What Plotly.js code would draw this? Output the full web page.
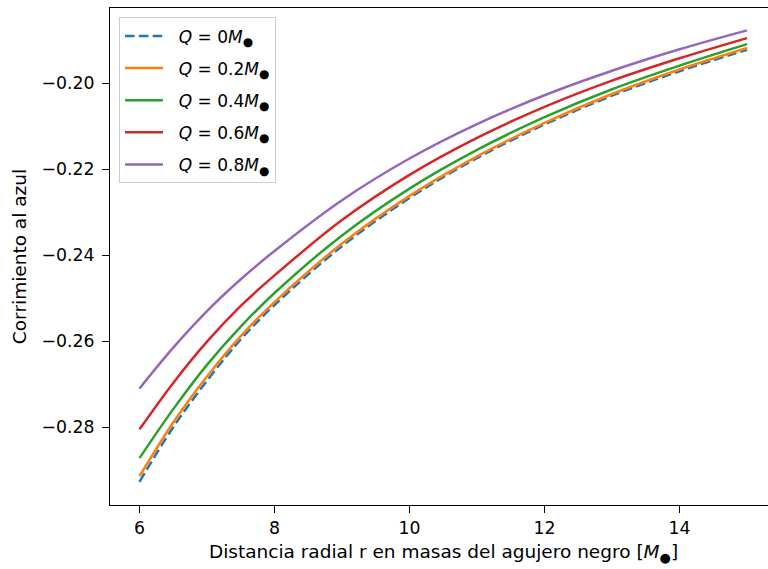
<!DOCTYPE html>
<html>
<head>
<meta charset="utf-8">
<script src="https://cdn.plot.ly/plotly-3.0.1.min.js"></script>
<style>
html,body{margin:0;padding:0;overflow:hidden;background:#fff;}
#chart{width:790px;height:569px;}
</style>
</head>
<body>
<div id="chart"></div>
<script>
// radial distance r (in black hole masses)
const r = [6, 6.5, 7, 7.5, 8, 9, 10, 11, 12, 13, 14, 15];
// blueshift values, one array per charge Q
const q00 = [-0.2927, -0.2800, -0.2692, -0.2596, -0.2516, -0.2379, -0.2267, -0.2174, -0.2096, -0.2029, -0.1972, -0.1922];
const q02 = [-0.2914, -0.2789, -0.2682, -0.2588, -0.2509, -0.2373, -0.2262, -0.2170, -0.2092, -0.2025, -0.1968, -0.1918];
const q04 = [-0.2872, -0.2758, -0.2655, -0.2566, -0.2488, -0.2354, -0.2245, -0.2155, -0.2079, -0.2014, -0.1959, -0.1909];
const q06 = [-0.2805, -0.2697, -0.2601, -0.2518, -0.2447, -0.2318, -0.2213, -0.2127, -0.2055, -0.1994, -0.1942, -0.1895];
const q08 = [-0.2710, -0.2615, -0.2530, -0.2456, -0.2390, -0.2272, -0.2175, -0.2095, -0.2028, -0.1971, -0.1921, -0.1877];
const seriesNames = [
  '\u00a0\u00a0<i>Q</i> = 0<i>M</i><sub>●</sub>',
  '\u00a0\u00a0<i>Q</i> = 0.2<i>M</i><sub>●</sub>',
  '\u00a0\u00a0<i>Q</i> = 0.4<i>M</i><sub>●</sub>',
  '\u00a0\u00a0<i>Q</i> = 0.6<i>M</i><sub>●</sub>',
  '\u00a0\u00a0<i>Q</i> = 0.8<i>M</i><sub>●</sub>'
];
const xTicks = [6, 8, 10, 12, 14];
const xTickText = ['6', '8', '10', '12', '14'];
const yTicks = [-0.28, -0.26, -0.24, -0.22, -0.20];
const yTickText = ['\u22120.28', '\u22120.26', '\u22120.24', '\u22120.22', '\u22120.20'];

const colors = ['#1f77b4', '#ff7f0e', '#2ca02c', '#d62728', '#9467bd'];
const ys = [q00, q02, q04, q06, q08];
const traces = ys.map((y, i) => ({
  x: r, y: y, type: 'scatter', mode: 'lines',
  name: seriesNames[i], legendgroup: 'g' + i,
  line: {color: colors[i], width: 2.5, shape: 'spline', smoothing: 1, dash: i === 0 ? '9.6px,4.2px' : 'solid'}
}));

const tickFont = {family: 'DejaVu Sans, sans-serif', size: 17.3, color: '#000'};
const labelFont = {family: 'DejaVu Sans, sans-serif', size: 18.5, color: '#000'};
const legendFont = {family: 'DejaVu Sans, sans-serif', size: 17, color: '#000'};
const layout = {
  width: 790, height: 569,
  margin: {l: 110, r: 13, t: 8, b: 64},
  paper_bgcolor: '#fff', plot_bgcolor: '#fff',
  font: tickFont,
  showlegend: true,
  legend: {
    x: 0.0135, y: 0.981, xanchor: 'left', yanchor: 'top',
    bgcolor: 'rgba(255,255,255,0.8)', bordercolor: '#cccccc', borderwidth: 1,
    font: legendFont, tracegroupgap: 7, itemwidth: 38
  },
  xaxis: {
    range: [5.563, 15.444], tickvals: xTicks, ticktext: xTickText, tickfont: tickFont,
    showgrid: false, zeroline: false, showline: true, mirror: true,
    linecolor: '#000', linewidth: 1, ticks: 'outside', ticklen: 7, tickwidth: 1, tickcolor: '#000',
    title: {text: 'Distancia radial r en masas del agujero negro [<i>M</i><sub>●</sub>]', font: labelFont, standoff: 8}
  },
  yaxis: {
    range: [-0.2981, -0.1825], tickvals: yTicks, ticktext: yTickText, tickfont: tickFont,
    showgrid: false, zeroline: false, showline: true, mirror: true,
    linecolor: '#000', linewidth: 1, ticks: 'outside', ticklen: 7, tickwidth: 1, tickcolor: '#000',
    ticklabelstandoff: 4,
    title: {text: 'Corrimiento al azul', font: labelFont, standoff: 10}
  }
};
Plotly.newPlot('chart', traces, layout, {displayModeBar: false, staticPlot: true});
</script>
</body>
</html>
